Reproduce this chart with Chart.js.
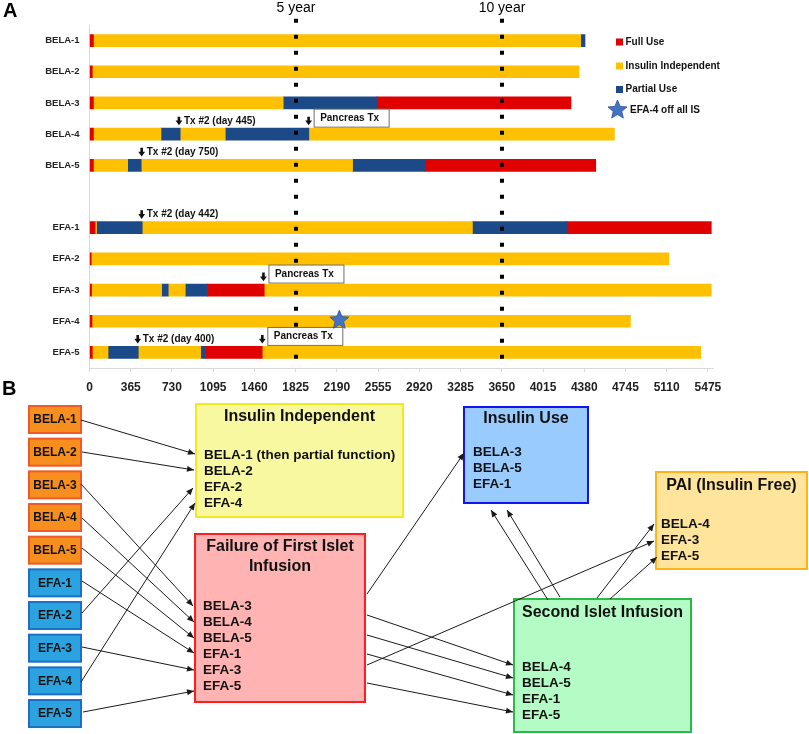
<!DOCTYPE html>
<html>
<head>
<meta charset="utf-8">
<script src="https://cdn.jsdelivr.net/npm/chart.js@4.4.0/dist/chart.umd.min.js"></script>
<style>
  html, body { margin: 0; padding: 0; background: #fff; }
  #wrap { position: relative; width: 809px; height: 734px; }
  #timeline { position: absolute; left: 0; top: 0; width: 809px; height: 400px; }
  #flow { position: absolute; left: 0; top: 370px; width: 809px; height: 364px; }
</style>
</head>
<body>
<div id="wrap">
  <canvas id="timeline" width="809" height="400"></canvas>
  <canvas id="flow" width="809" height="364"></canvas>
</div>
<script>
var FONT = '"Liberation Sans", Arial, sans-serif';

// ---------- panel A data ----------
var patients = ['BELA-1', 'BELA-2', 'BELA-3', 'BELA-4', 'BELA-5', '', 'EFA-1', 'EFA-2', 'EFA-3', 'EFA-4', 'EFA-5'];
var states = ['Full Use', 'Insulin Independent', 'Partial Use'];
var stateColors = ['#E00000', '#FFC000', '#1C4A89'];
var dayTicks = [0, 365, 730, 1095, 1460, 1825, 2190, 2555, 2920, 3285, 3650, 4015, 4380, 4745, 5110, 5475];
var yearDays = [1825, 3650];
var yearLabels = ['5 year', '10 year'];

// periods per patient: [state, from day, to day]  (0 full use, 1 insulin independent, 2 partial use)
var bela1 = [[0, 0, 35], [1, 35, 4349], [2, 4349, 4387]];
var bela2 = [[0, 0, 25], [1, 25, 4334]];
var bela3 = [[0, 0, 35], [1, 35, 1715], [2, 1715, 2546], [0, 2546, 4263]];
var bela4 = [[0, 0, 35], [1, 35, 633], [2, 633, 803], [1, 803, 1202], [2, 1202, 1942], [1, 1942, 4647]];
var bela5 = [[0, 0, 35], [1, 35, 338], [2, 338, 458], [1, 458, 2329], [2, 2329, 2968], [0, 2968, 4482]];
var efa1 = [[0, 0, 50], [1, 50, 62], [2, 62, 467], [1, 467, 3390], [2, 3390, 4228], [0, 4228, 5505]];
var efa2 = [[0, 0, 15], [1, 15, 5130]];
var efa3 = [[0, 0, 18], [1, 18, 639], [2, 639, 697], [1, 697, 848], [2, 848, 1046], [0, 1046, 1547], [1, 1547, 5505]];
var efa4 = [[0, 0, 22], [1, 22, 4789]];
var efa5 = [[0, 0, 25], [1, 25, 164], [2, 164, 432], [1, 432, 984], [2, 984, 1028], [0, 1028, 1529], [1, 1529, 5411]];
var periods = [bela1, bela2, bela3, bela4, bela5, [], efa1, efa2, efa3, efa4, efa5];

var secondTx = [['BELA-4', 792, 'Tx #2 (day 445)'], ['BELA-5', 462, 'Tx #2 (day 750)'],
                ['EFA-1', 462, 'Tx #2 (day 442)'], ['EFA-5', 427, 'Tx #2 (day 400)']];
var pancreasTx = [['BELA-4', 1940], ['EFA-3', 1540], ['EFA-5', 1530]];
var offIS = ['EFA-4', 2212, 'EFA-4 off all IS'];

// ---------- panel B data ----------
var sources = ['BELA-1', 'BELA-2', 'BELA-3', 'BELA-4', 'BELA-5', 'EFA-1', 'EFA-2', 'EFA-3', 'EFA-4', 'EFA-5'];
var outcomeTitles = [['Insulin Independent'], ['Failure of First Islet', 'Infusion'], ['Insulin Use'],
                     ['PAI (Insulin Free)'], ['Second Islet Infusion']];
var outcomeMembers = [
  ['BELA-1 (then partial function)', 'BELA-2', 'EFA-2', 'EFA-4'],
  ['BELA-3', 'BELA-4', 'BELA-5', 'EFA-1', 'EFA-3', 'EFA-5'],
  ['BELA-3', 'BELA-5', 'EFA-1'],
  ['BELA-4', 'EFA-3', 'EFA-5'],
  ['BELA-4', 'BELA-5', 'EFA-1', 'EFA-5']
];
// who moves where: [from, to]
var flows = [
  ['BELA-1', 'Insulin Independent'], ['BELA-2', 'Insulin Independent'], ['BELA-3', 'Failure'],
  ['BELA-4', 'Failure'], ['BELA-5', 'Failure'], ['EFA-1', 'Failure'], ['EFA-2', 'Insulin Independent'],
  ['EFA-3', 'Failure'], ['EFA-4', 'Insulin Independent'], ['EFA-5', 'Failure'],
  ['Failure', 'Insulin Use'], ['Failure', 'Second'], ['Failure', 'Second'], ['Failure', 'Second'],
  ['Failure', 'Second'], ['Failure', 'PAI'], ['Second', 'Insulin Use'], ['Second', 'Insulin Use'],
  ['Second', 'PAI'], ['Second', 'PAI']
];

// ---------- panel B layout (diagram units) ----------
var srcBox = { x: 29, y: 36, w: 52, h: 27, step: 32.67 };
var srcStyle = { bela: ['#F78F1E', '#F05A28'], efa: ['#2AA3E0', '#1C6FC4'] };
var outcomeBoxes = [
  { x: 196, y: 34, w: 207, h: 113, titleY: 47, listY: 85, pad: 8, fill: '#F8F8A0', stroke: '#F2EA1E' },
  { x: 195, y: 164, w: 170, h: 168, titleY: 177, listY: 236, pad: 8, fill: '#FFB3B3', stroke: '#FF1E1E' },
  { x: 464, y: 37, w: 124, h: 96, titleY: 49, listY: 82, pad: 9, fill: '#99CBFF', stroke: '#1212F5' },
  { x: 656, y: 102, w: 151, h: 97, titleY: 116, listY: 154, pad: 5, fill: '#FFE59C', stroke: '#FFB21A' },
  { x: 514, y: 229, w: 177, h: 133, titleY: 243, listY: 297, pad: 8, fill: '#B4FCC5', stroke: '#2FB84A' }
];
var flowRoutes = [
  [81, 50, 195, 84], [82, 82, 194, 100], [81, 114, 193, 236], [82, 148, 194, 252], [82, 178, 194, 268],
  [82, 211, 194, 283], [82, 243, 193, 118], [82, 277, 194, 300], [81, 312, 195, 133], [83, 342, 194, 321],
  [367, 224, 464, 83], [367, 245, 513, 295], [367, 265, 513, 308], [367, 284, 513, 325], [367, 313, 513, 342],
  [367, 295, 654, 171], [548, 230, 491, 140], [560, 227, 507, 140], [597, 228, 654, 154], [610, 229, 657, 187]
];

// ---------- helpers ----------
function downArrow(ctx, x, y) {
  ctx.beginPath();
  ctx.rect(x - 1.3, y - 4.5, 2.6, 4.2);
  ctx.moveTo(x - 3.4, y - 0.6);
  ctx.lineTo(x + 3.4, y - 0.6);
  ctx.lineTo(x, y + 4.2);
  ctx.closePath();
  ctx.fill();
}

function star(ctx, x, y, r) {
  ctx.beginPath();
  for (var i = 0; i < 10; i++) {
    var rr = i % 2 === 0 ? r : r * 0.45;
    var a = -Math.PI / 2 + i * Math.PI / 5;
    ctx.lineTo(x + rr * Math.cos(a), y + rr * Math.sin(a));
  }
  ctx.closePath();
  ctx.fillStyle = '#4472C4';
  ctx.fill();
  ctx.strokeStyle = '#2F5597';
  ctx.lineWidth = 0.8;
  ctx.stroke();
}

// ---------- panel A ----------
var maxSeg = Math.max.apply(null, periods.map(function (p) { return p.length; }));
var barSets = [];
for (var k = 0; k < maxSeg; k++) {
  barSets.push({
    data: periods.map(function (p) { return p[k] ? [p[k][1], p[k][2]] : null; }),
    backgroundColor: periods.map(function (p) { return p[k] ? stateColors[p[k][0]] : 'rgba(0,0,0,0)'; }),
    barThickness: 12,
    grouped: false,
    borderWidth: 0
  });
}

var timelineMarks = {
  id: 'timelineMarks',
  afterDatasetsDraw: function (chart) {
    var ctx = chart.ctx, xs = chart.scales.x, ys = chart.scales.y, area = chart.chartArea;
    function rowY(name) { return ys.getPixelForValue(patients.indexOf(name)); }
    ctx.save();

    // 5 / 10 year markers
    yearDays.forEach(function (d, i) {
      var px = Math.round(xs.getPixelForValue(d));
      ctx.strokeStyle = '#000';
      ctx.lineWidth = 4;
      ctx.setLineDash([4, 12]);
      ctx.beginPath();
      ctx.moveTo(px, 18.7);
      ctx.lineTo(px, area.bottom);
      ctx.stroke();
      ctx.setLineDash([]);
      ctx.fillStyle = '#000';
      ctx.font = '14px ' + FONT;
      ctx.textAlign = 'center';
      ctx.textBaseline = 'middle';
      ctx.fillText(yearLabels[i], px, 8);
    });

    // second transplant notes
    ctx.font = 'bold 10px ' + FONT;
    ctx.textAlign = 'left';
    ctx.textBaseline = 'middle';
    ctx.fillStyle = '#111';
    secondTx.forEach(function (n) {
      var x = xs.getPixelForValue(n[1]), y = rowY(n[0]) - 13;
      downArrow(ctx, x, y);
      ctx.fillText(n[2], x + 5, y);
    });

    // pancreas transplant boxes
    pancreasTx.forEach(function (n) {
      var x = xs.getPixelForValue(n[1]), y = rowY(n[0]);
      ctx.fillStyle = '#111';
      downArrow(ctx, x, y - 13);
      ctx.fillStyle = '#fff';
      ctx.strokeStyle = '#6e6e6e';
      ctx.lineWidth = 1;
      ctx.fillRect(x + 5.5, y - 25, 75, 18);
      ctx.strokeRect(x + 5.5, y - 25, 75, 18);
      ctx.fillStyle = '#111';
      ctx.fillText('Pancreas Tx', x + 11.5, y - 16);
    });

    // off immunosuppression star
    star(ctx, xs.getPixelForValue(offIS[1]), rowY(offIS[0]) - 1, 10);

    // legend
    var lx = 616, ly = [42, 66, 89.5];
    states.forEach(function (s, i) {
      ctx.fillStyle = stateColors[i];
      ctx.fillRect(lx, ly[i] - 3.5, 7, 7);
      ctx.fillStyle = '#111';
      ctx.font = 'bold 10px ' + FONT;
      ctx.fillText(s, lx + 9.5, ly[i]);
    });
    star(ctx, lx + 1.5, 110, 10);
    ctx.fillStyle = '#111';
    ctx.fillText(offIS[2], lx + 14, 110);

    // panel letter
    ctx.font = 'bold 20px ' + FONT;
    ctx.fillStyle = '#000';
    ctx.fillText('A', 3, 11);
    ctx.restore();
  }
};

new Chart(document.getElementById('timeline'), {
  type: 'bar',
  data: { labels: patients, datasets: barSets },
  options: {
    indexAxis: 'y',
    responsive: false,
    animation: false,
    layout: { padding: { top: 25, right: 96, left: 0, bottom: 0 } },
    plugins: { legend: { display: false }, tooltip: { enabled: false } },
    scales: {
      x: {
        type: 'linear',
        min: 0,
        max: 5520,
        afterBuildTicks: function (axis) { axis.ticks = dayTicks.map(function (v) { return { value: v }; }); },
        afterFit: function (axis) { axis.height = 32; },
        grid: { drawOnChartArea: false, color: '#d9d9d9', tickLength: 4 },
        border: { color: '#d9d9d9' },
        ticks: {
          autoSkip: false,
          maxRotation: 0,
          padding: 8,
          color: '#222',
          font: { family: FONT, size: 12, weight: 'bold' },
          callback: function (v) { return String(v); }
        }
      },
      y: {
        afterFit: function (axis) { axis.width = 89.5; },
        grid: { display: false, drawTicks: false },
        border: { color: '#d9d9d9' },
        ticks: { autoSkip: false, padding: 10, color: '#222', font: { family: FONT, size: 9.5, weight: 'bold' } }
      }
    }
  },
  plugins: [timelineMarks]
});

// ---------- panel B ----------
var flowSets = flowRoutes.map(function (r) {
  return {
    data: [{ x: r[0], y: r[1] }, { x: r[2], y: r[3] }],
    showLine: true,
    borderColor: '#1a1a1a',
    borderWidth: 1,
    pointRadius: 0,
    clip: false
  };
});

var flowBoxes = {
  id: 'flowBoxes',
  beforeDatasetsDraw: function (chart) {
    var ctx = chart.ctx, xs = chart.scales.x, ys = chart.scales.y;
    function X(v) { return xs.getPixelForValue(v); }
    function Y(v) { return ys.getPixelForValue(v); }
    ctx.save();
    ctx.textBaseline = 'middle';

    sources.forEach(function (s, i) {
      var st = s.indexOf('BELA') === 0 ? srcStyle.bela : srcStyle.efa;
      var x0 = X(srcBox.x), y0 = Y(srcBox.y + i * srcBox.step);
      var w = X(srcBox.x + srcBox.w) - x0, h = Y(srcBox.y + i * srcBox.step + srcBox.h) - y0;
      ctx.fillStyle = st[0];
      ctx.fillRect(x0, y0, w, h);
      ctx.strokeStyle = st[1];
      ctx.lineWidth = 2;
      ctx.strokeRect(x0, y0, w, h);
      ctx.fillStyle = '#111';
      ctx.font = 'bold 12px ' + FONT;
      ctx.textAlign = 'center';
      ctx.fillText(s, x0 + w / 2, y0 + h / 2 + 0.5);
    });

    outcomeBoxes.forEach(function (b, i) {
      var x0 = X(b.x), y0 = Y(b.y), w = X(b.x + b.w) - x0, h = Y(b.y + b.h) - y0;
      ctx.fillStyle = b.fill;
      ctx.fillRect(x0, y0, w, h);
      ctx.strokeStyle = b.stroke;
      ctx.lineWidth = 2;
      ctx.strokeRect(x0, y0, w, h);
      ctx.fillStyle = '#111';
      ctx.font = 'bold 16px ' + FONT;
      ctx.textAlign = 'center';
      outcomeTitles[i].forEach(function (t, j) {
        ctx.fillText(t, x0 + w / 2, Y(b.titleY + j * 20));
      });
      ctx.font = 'bold 13.5px ' + FONT;
      ctx.textAlign = 'left';
      outcomeMembers[i].forEach(function (m, j) {
        ctx.fillText(m, X(b.x + b.pad), Y(b.listY + j * 16));
      });
    });
    ctx.restore();
  },
  afterDatasetsDraw: function (chart) {
    var ctx = chart.ctx;
    ctx.save();
    ctx.fillStyle = '#1a1a1a';
    chart.data.datasets.forEach(function (ds, i) {
      var pts = chart.getDatasetMeta(i).data;
      var a = pts[pts.length - 2], b = pts[pts.length - 1];
      var ang = Math.atan2(b.y - a.y, b.x - a.x);
      ctx.beginPath();
      ctx.moveTo(b.x, b.y);
      ctx.lineTo(b.x - 7 * Math.cos(ang) + 3 * Math.sin(ang), b.y - 7 * Math.sin(ang) - 3 * Math.cos(ang));
      ctx.lineTo(b.x - 7 * Math.cos(ang) - 3 * Math.sin(ang), b.y - 7 * Math.sin(ang) + 3 * Math.cos(ang));
      ctx.closePath();
      ctx.fill();
    });
    ctx.font = 'bold 20px ' + FONT;
    ctx.fillStyle = '#000';
    ctx.textBaseline = 'middle';
    ctx.textAlign = 'left';
    ctx.fillText('B', 2, 19);
    ctx.restore();
  }
};

new Chart(document.getElementById('flow'), {
  type: 'scatter',
  data: { datasets: flowSets },
  options: {
    responsive: false,
    animation: false,
    layout: { padding: 0 },
    plugins: { legend: { display: false }, tooltip: { enabled: false } },
    scales: {
      x: { type: 'linear', min: 0, max: 809, display: false },
      y: { type: 'linear', min: 0, max: 364, reverse: true, display: false }
    }
  },
  plugins: [flowBoxes]
});
</script>
</body>
</html>
